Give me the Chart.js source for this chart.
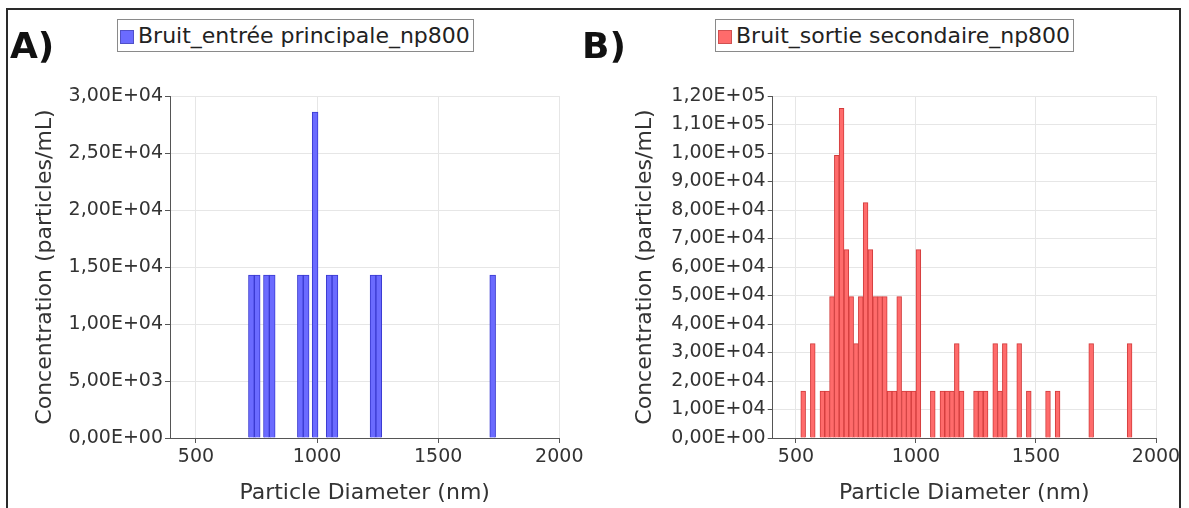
<!DOCTYPE html>
<html><head><meta charset="utf-8">
<script src="https://cdn.jsdelivr.net/npm/chart.js@4.4.1/dist/chart.umd.min.js"></script>
<style>
html,body{margin:0;padding:0;background:#fff;width:1189px;height:508px;overflow:hidden;font-family:"DejaVu Sans",sans-serif;}
#wrap{position:relative;width:1189px;height:508px;}
canvas{position:absolute;top:0;}
#cA{left:0}
#cB{left:595px}
.frame{position:absolute;left:6px;top:8px;width:1171px;height:520px;border:2px solid #2a2a2a;border-bottom:none;pointer-events:none;}
.panel{position:absolute;font-weight:bold;font-size:36px;line-height:36px;color:#111;}
.legend{position:absolute;top:19px;height:31px;border:1px solid #8a8a8a;font-size:22px;line-height:31px;padding:0 3px 0 2px;white-space:nowrap;color:#222;background:#fff}
.legend i{display:inline-block;width:14px;height:14px;margin-right:4px;vertical-align:-1px;}
</style></head>
<body>
<div id="wrap">
<canvas id="cA" width="595" height="508"></canvas>
<canvas id="cB" width="594" height="508"></canvas>
<div class="frame"></div>
<div class="panel" style="left:10px;top:28px">A)</div>
<div class="panel" style="left:582px;top:28px">B)</div>
<div class="legend" id="legA" style="left:117px"></div>
<div class="legend" id="legB" style="left:715px"></div>
</div>
<script>
// ---- data ----
const seriesA = "Bruit_entrée principale_np800";
const seriesB = "Bruit_sortie secondaire_np800";
const xTitle = "Particle Diameter (nm)";
const yTitle = "Concentration (particles/mL)";
const xTicks = [500, 1000, 1500, 2000];
const yTicksA = [0, 5000, 10000, 15000, 20000, 25000, 30000];
const yTicksB = [0, 10000, 20000, 30000, 40000, 50000, 60000, 70000, 80000, 90000, 100000, 110000, 120000];
const diamA = [729, 753, 791, 815, 931, 955, 992, 1050, 1074, 1231, 1255, 1725];
const concA = [14300, 14300, 14300, 14300, 14300, 14300, 28600, 14300, 14300, 14300, 14300, 14300];
const diamB = [530, 570, 610, 630, 650, 670, 690, 710, 730, 750, 770, 790, 810, 830, 850, 870, 890, 910, 930, 950, 970, 990, 1010, 1070, 1110, 1130, 1150, 1170, 1190, 1250, 1270, 1290, 1330, 1350, 1370, 1430, 1470, 1550, 1590, 1730, 1890];
const concB = [16500, 33100, 16500, 16500, 49600, 99200, 115700, 66100, 49600, 33100, 49600, 82600, 66100, 49600, 49600, 49600, 16500, 16500, 49600, 16500, 16500, 16500, 66100, 16500, 16500, 16500, 16500, 33100, 16500, 16500, 16500, 16500, 33100, 16500, 33100, 33100, 16500, 16500, 16500, 33100, 33100];

function fmtE(v){
  if (v === 0) return '0,00E+00';
  const s = v.toExponential(2);
  const parts = s.split('e');
  const n = parseInt(parts[1], 10);
  return parts[0].replace('.', ',') + 'E' + (n < 0 ? '-' : '+') + String(Math.abs(n)).padStart(2, '0');
}

Chart.defaults.font.family = '"DejaVu Sans", sans-serif';
Chart.defaults.color = '#333';

function makeChart(id, label, xs, ys, fill, stroke, yTicks, xMin, cfg){
  const ctx = document.getElementById(id);
  return new Chart(ctx, {
    type: 'bar',
    data: { datasets: [{
      label: label,
      data: xs.map((x, i) => ({x: x, y: ys[i]})),
      backgroundColor: fill, borderColor: stroke, borderWidth: 1,
      categoryPercentage: 1, barPercentage: 1
    }]},
    options: {
      responsive: false, animation: false, devicePixelRatio: 1,
      layout: { padding: { left: cfg.padL, right: cfg.padR, top: 96, bottom: 0 } },
      plugins: { legend: { display: false }, tooltip: { enabled: false } },
      scales: {
        x: {
          type: 'linear', min: xMin, max: 2000, offset: false,
          afterBuildTicks: s => { s.ticks = xTicks.map(v => ({value: v})); },
          afterFit: s => { s.height = 70; },
          grid: { offset: false, color: '#e6e6e6', tickColor: '#555', tickLength: 5 },
          border: { color: '#555', width: 1 },
          ticks: { font: { size: 19 }, color: '#333', padding: 3, maxRotation: 0, autoSkip: false, callback: v => String(v) },
          title: { display: true, text: xTitle, font: { size: 22 }, color: '#333', padding: { top: 4, bottom: 2 } }
        },
        y: {
          min: 0, max: yTicks[yTicks.length - 1],
          afterBuildTicks: s => { s.ticks = yTicks.map(v => ({value: v})); },
          afterFit: s => { s.width = cfg.yW; },
          grid: { color: '#e6e6e6', tickColor: '#555', tickLength: 5 },
          border: { color: '#555', width: 1 },
          ticks: { font: { size: 19 }, color: '#333', padding: 2, autoSkip: false, callback: v => fmtE(v) },
          title: { display: true, text: yTitle, font: { size: 22 }, color: '#333', padding: { top: 4, bottom: 4 } }
        }
      }
    }
  });
}

makeChart('cA', seriesA, diamA, concA, '#6b6bff', '#3a3ad0', yTicksA, 393, { padL: 28, padR: 35.7, yW: 142 });
makeChart('cB', seriesB, diamB, concB, '#ff6b6b', '#d23c3c', yTicksB, 403, { padL: 33, padR: 33, yW: 144.7 });

function legend(id, label, fill, stroke){
  const el = document.getElementById(id);
  const i = document.createElement('i');
  i.style.background = fill; i.style.border = '1px solid ' + stroke; i.style.boxSizing = 'border-box';
  el.appendChild(i);
  el.appendChild(document.createTextNode(label));
}
legend('legA', seriesA, '#6b6bff', '#5050c8');
legend('legB', seriesB, '#ff6b6b', '#d05050');
</script>
</body></html>
